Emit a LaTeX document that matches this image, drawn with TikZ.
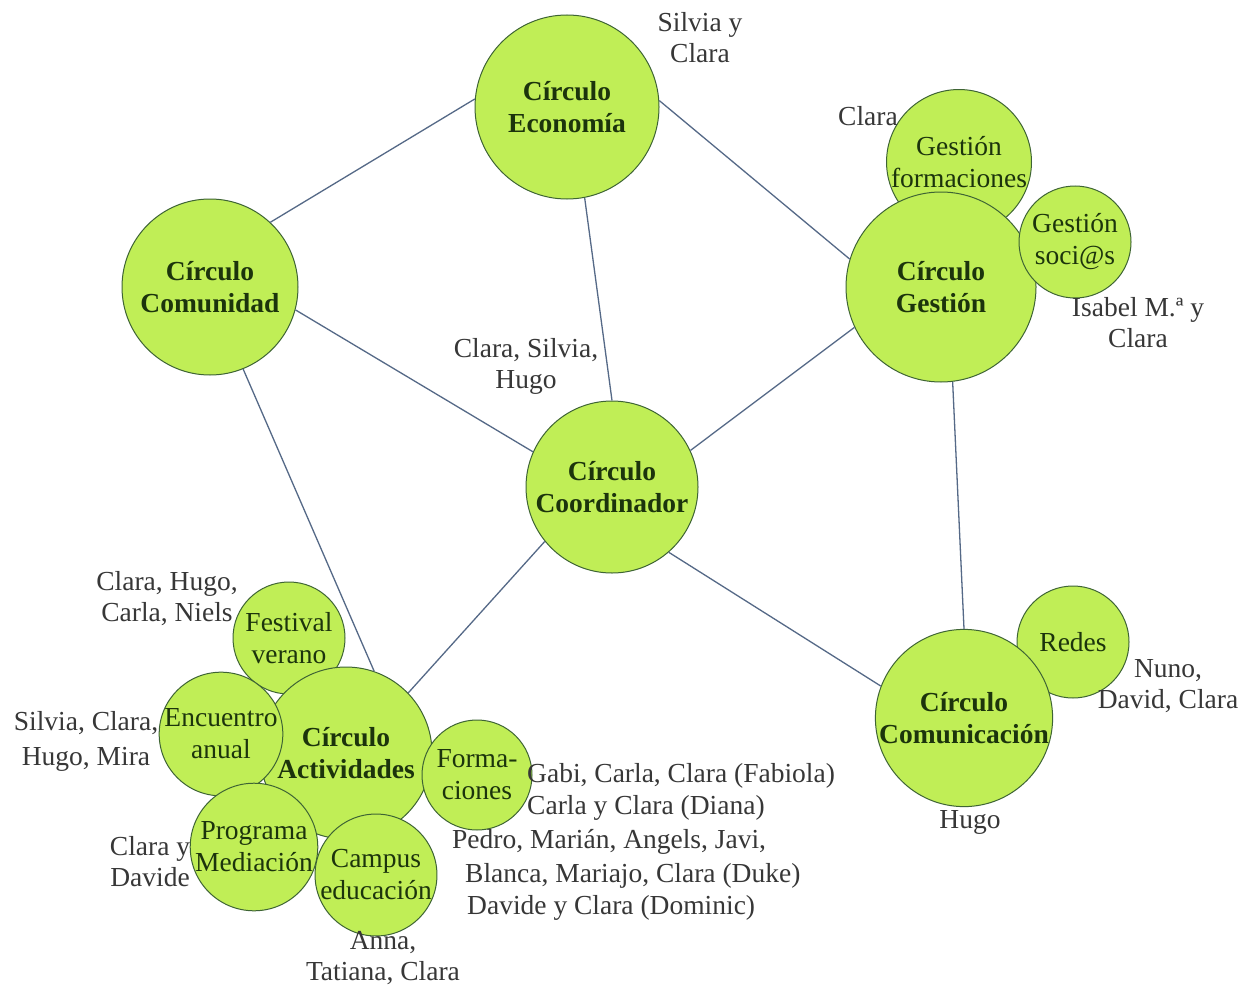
\documentclass[tikz,border=0pt]{standalone}
\usepackage{fontspec}
\setmainfont{Liberation Serif}
\definecolor{cfill}{RGB}{192,238,86}
\definecolor{cborder}{RGB}{62,100,52}
\definecolor{ctext}{RGB}{28,52,12}
\definecolor{ltext}{RGB}{55,55,55}
\definecolor{lcol}{RGB}{85,105,135}
\tikzset{
  circ/.style={circle, draw=cborder, fill=cfill, line width=1pt, inner sep=0pt,
    align=center, text=ctext, minimum size=#1, font=\fontsize{27.5}{32}\selectfont},
  bigcirc/.style={circ=#1, font=\bfseries\fontsize{27.5}{32}\selectfont},
  lab/.style={text=ltext, align=center, inner sep=0pt, font=\fontsize{27.5}{31}\selectfont},
  link/.style={draw=lcol, line width=1.3pt}
}
\begin{document}
\begin{tikzpicture}[x=1pt,y=-1pt]
\path[use as bounding box, fill=white] (0,0) rectangle (1246,987);
% circles behind
\node[circ=120] (gfo) at (959,162) {Gestión\\formaciones};
\node[circ=112] (fes) at (289,638) {Festival\\verano};
\node[circ=112] (red) at (1073,642) {Redes};
% main circles
\node[bigcirc=184] (eco) at (567,107) {Círculo\\Economía};
\node[bigcirc=176] (com) at (210,287) {Círculo\\Comunidad};
\node[bigcirc=190] (ges) at (941,287) {Círculo\\Gestión};
\node[bigcirc=172] (coo) at (612,487) {Círculo\\Coordinador};
\node[bigcirc=176] (cmu) at (964,718) {Círculo\\Comunicación};
\node[bigcirc=172] (act) at (346,753) {Círculo\\Actividades};
% circles in front
\node[circ=112] (gso) at (1075,242) {Gestión\\soci@s};
\node[circ=112] (enc) at (221,734) {Encuentro\\anual};
\node[circ=112] (pro) at (254,847) {Programa\\Mediación};
\node[circ=112] (cam) at (376,875) {Campus\\educación};
\node[circ=110] (for) at (477,775) {Forma-\\ciones};
% connectors
\draw[link] (com.47) -- (eco.175);
\draw[link] (eco.4) -- (ges.163);
\draw[link] (eco.-79) -- (coo.90);
\draw[link] (com.-15) -- (coo.156);
\draw[link] (com.-68) -- (act.71);
\draw[link] (coo.25) -- (ges.205);
\draw[link] (ges.-83) -- (cmu.90);
\draw[link] (coo.-49) -- (cmu.159);
\draw[link] (coo.219) -- (act.44);
% labels
\node[lab] (l-eco) at (700,38) {Silvia y\\Clara};
\node[lab] (l-gfo) at (868,116) {Clara};
\node[lab] (l-gso) at (1138,323) {Isabel M.ª y\\Clara};
\node[lab] (l-coo) at (526,366) {Clara, Silvia,\\Hugo};
\node[lab] (l-red) at (1168,686) {Nuno,\\David, Clara};
\node[lab] (l-cmu) at (970,822) {Hugo};
\node[lab] (l-fes) at (167,599) {Clara, Hugo,\\Carla, Niels};
\node[lab] (l-enc) at (86,741) {Silvia, Clara,\\[4pt]Hugo, Mira};
\node[lab] (l-pro) at (150,862) {Clara y\\Davide};
\node[lab] (l-cam) at (383,958) {Anna,\\Tatiana, Clara};
\node[lab, anchor=west] (f1) at (527,776) {Gabi, Carla, Clara (Fabiola)};
\node[lab, anchor=west] (f2) at (527,808) {Carla y Clara (Diana)};
\node[lab, anchor=west] (f3) at (452,842) {Pedro, Marián, Angels, Javi,};
\node[lab, anchor=west] (f4) at (465,876) {Blanca, Mariajo, Clara (Duke)};
\node[lab, anchor=west] (f5) at (467,908) {Davide y Clara (Dominic)};
\end{tikzpicture}
\end{document}
